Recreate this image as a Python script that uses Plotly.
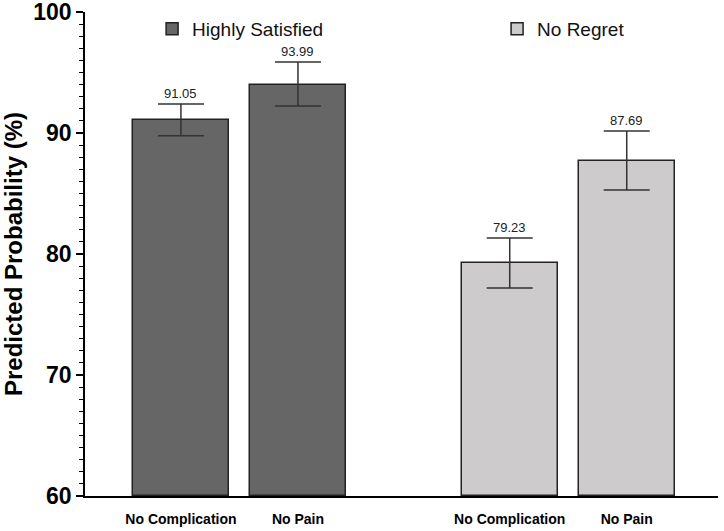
import plotly.graph_objects as go

# ---- data ----
groups = ["Highly Satisfied", "No Regret"]
categories = ["No Complication", "No Pain"]
highly_satisfied = [91.05, 93.99]
no_regret = [79.23, 87.69]
hs_err_plus = [1.35, 1.88]
hs_err_minus = [1.27, 1.76]
nr_err_plus = [2.09, 2.48]
nr_err_minus = [2.04, 2.40]
y_ticks = [60, 70, 80, 90, 100]

# ---- style ----
colors = ["#666666", "#cdcbcc"]
edge = "#222222"
font_family = "Arial, Liberation Sans, sans-serif"
group_gap = 2.81
legend_ids = ["legend", "legend2"]
legend_x = [0.106, 0.651]

series = [
    (highly_satisfied, hs_err_plus, hs_err_minus),
    (no_regret, nr_err_plus, nr_err_minus),
]

fig = go.Figure()
tickvals, ticktext = [], []
for gi, (name, (vals, ep, em)) in enumerate(zip(groups, series)):
    xs = [gi * group_gap + i for i in range(len(categories))]
    tickvals += xs
    ticktext += categories
    fig.add_trace(go.Bar(
        x=xs, y=[v - 60 for v in vals], base=60, name=name,
        width=0.82, legend=legend_ids[gi], showlegend=True,
        marker=dict(color=colors[gi], line=dict(color=edge, width=1.5)),
        error_y=dict(type="data", symmetric=False, array=ep, arrayminus=em,
                     color="#333333", thickness=1.5, width=23),
        hoverinfo="skip",
    ))
    for x, v, p in zip(xs, vals, ep):
        fig.add_annotation(x=x, y=v + p, text=f"{v:.2f}", showarrow=False,
                           yanchor="bottom", yshift=1,
                           font=dict(size=13, color="#222222", family=font_family))

legend_common = dict(orientation="h", y=0.965, yanchor="middle", xanchor="left",
                     font=dict(size=19, color="#111111", family=font_family),
                     bgcolor="rgba(0,0,0,0)")

fig.update_layout(
    width=724, height=531,
    margin=dict(l=85, r=6, t=12, b=35),
    plot_bgcolor="white", paper_bgcolor="white",
    font=dict(family=font_family, color="black"),
    bargap=0,
    showlegend=True,
    legend=dict(x=legend_x[0], **legend_common),
    legend2=dict(x=legend_x[1], **legend_common),
    xaxis=dict(range=[-0.82, 4.59], tickvals=tickvals, ticktext=ticktext,
               showgrid=False, zeroline=False, showline=True, linecolor="black",
               linewidth=1.5, ticks="", automargin=False, ticklabelstandoff=9,
               ticklabeloverflow="allow",
               tickfont=dict(size=14, family=font_family, weight="bold", color="black")),
    yaxis=dict(range=[60, 100], tickvals=y_ticks, showgrid=False, zeroline=False,
               showline=True, linecolor="black", linewidth=1.5, automargin=False,
               ticks="outside", ticklen=7, tickwidth=1.5, tickcolor="black",
               ticklabeloverflow="allow",
               minor=dict(dtick=1, ticks="outside", ticklen=4, tickwidth=1.2,
                          tickcolor="black"),
               tickfont=dict(size=23, family=font_family, weight="bold", color="black"),
               title=dict(text="Predicted Probability (%)", standoff=12,
                          font=dict(size=24, family=font_family, weight="bold",
                                    color="black"))),
)

fig.write_html("out.html", config={"displayModeBar": False},
               post_script="document.body.style.margin='0';document.body.style.overflow='hidden';")
